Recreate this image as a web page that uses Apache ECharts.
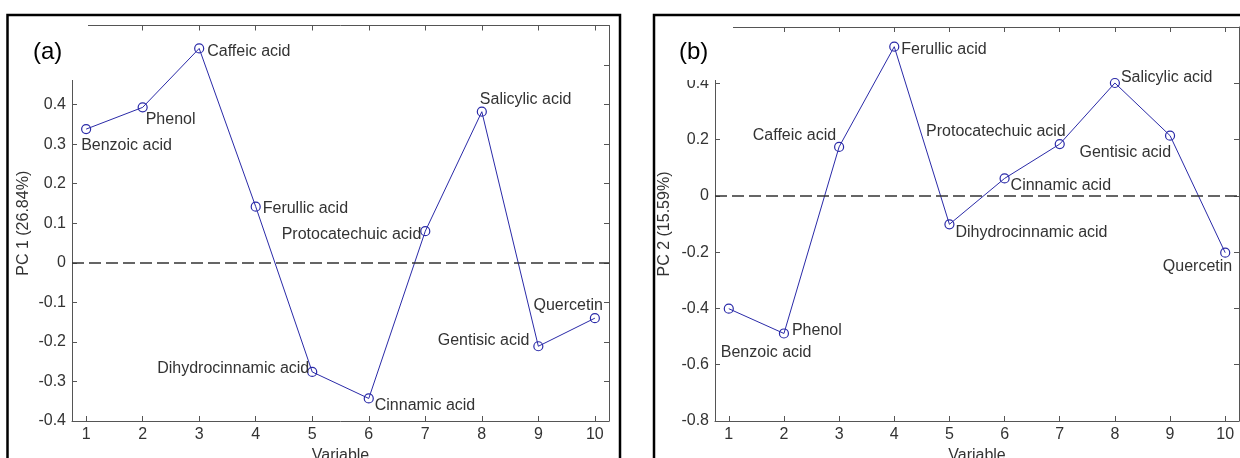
<!DOCTYPE html>
<html>
<head>
<meta charset="utf-8">
<script src="https://cdn.jsdelivr.net/npm/echarts@6/dist/echarts.min.js"></script>
<style>
  html, body { margin: 0; padding: 0; background: #fff; }
  #chart { width: 1240px; height: 458px; }
</style>
</head>
<body>
<div id="chart"></div>
<script>
// ---- data ----
const variables = [1, 2, 3, 4, 5, 6, 7, 8, 9, 10];
const namesA = ['Benzoic acid', 'Phenol', 'Caffeic acid', 'Ferullic acid', 'Dihydrocinnamic acid',
                'Cinnamic acid', 'Protocatechuic acid', 'Salicylic acid', 'Gentisic acid', 'Quercetin'];
const pc1 = [0.338, 0.393, 0.542, 0.142, -0.276, -0.343, 0.080, 0.382, -0.211, -0.140];
const namesB = ['Benzoic acid', 'Phenol', 'Caffeic acid', 'Ferullic acid', 'Dihydrocinnamic acid',
                'Cinnamic acid', 'Protocatechuic acid', 'Salicylic acid', 'Gentisic acid', 'Quercetin'];
const pc2 = [-0.401, -0.489, 0.174, 0.530, -0.101, 0.062, 0.184, 0.401, 0.214, -0.202];
const xTicks = [1, 2, 3, 4, 5, 6, 7, 8, 9, 10];
const yNameA = 'PC 1 (26.84%)';
const yNameB = 'PC 2 (15.59%)';
const xName = 'Variable';

// ---- label placement (style, not data): [align, dx, dy] ----
const placeA = [['left', -5, 16], ['left', 3, 12], ['left', 8, 3], ['left', 7, 2], ['right', -3, -3],
                ['left', 6, 7], ['right', -4, 3], ['left', -2, -12], ['right', -9, -6], ['right', 8, -13]];
const placeB = [['left', -8, 44], ['left', 8, -3], ['right', -3, -11], ['left', 7, 3], ['left', 6, 8],
                ['left', 6, 7], ['right', 6, -12], ['left', 6, -5], ['right', 1, 17], ['right', 7, 14]];

const FONT = 'Liberation Sans, Arial, sans-serif';
const TXT = '#333';
const AX = '#555';
const BLUE = '#2a2aa8';

function buildData(xs, ys, names, place) {
  return xs.map((x, i) => ({
    value: [x, ys[i]],
    label: {
      show: true,
      position: 'inside',
      formatter: names[i],
      align: place[i][0],
      verticalAlign: 'middle',
      offset: [place[i][1], place[i][2]],
      color: TXT,
      fontSize: 16,
      fontFamily: FONT
    }
  }));
}

function xAxisPair(gridIndex) {
  return [
    {
      gridIndex, type: 'value', min: 0.75, max: 10.25, position: 'bottom',
      name: xName, nameLocation: 'middle', nameGap: 23,
      nameTextStyle: { color: TXT, fontSize: 16, fontFamily: FONT },
      axisLine: { show: true, onZero: false, lineStyle: { color: AX, width: 1 } },
      axisTick: { show: true, inside: true, length: 5, customValues: xTicks, lineStyle: { color: AX } },
      axisLabel: { show: true, customValues: xTicks, margin: 6, color: TXT, fontSize: 16, fontFamily: FONT },
      splitLine: { show: false }
    },
    {
      gridIndex, type: 'value', min: 0.75, max: 10.25, position: 'top',
      axisLine: { show: true, onZero: false, lineStyle: { color: AX, width: 1 } },
      axisTick: { show: true, inside: true, length: 5, customValues: xTicks, lineStyle: { color: AX } },
      axisLabel: { show: false },
      splitLine: { show: false }
    }
  ];
}

function yAxisPair(gridIndex, min, max, interval, name, nameGap) {
  return [
    {
      gridIndex, type: 'value', min, max, interval, position: 'left',
      name, nameLocation: 'middle', nameGap, nameRotate: 90,
      nameTextStyle: { color: TXT, fontSize: 16, fontFamily: FONT },
      axisLine: { show: true, onZero: false, lineStyle: { color: AX, width: 1 } },
      axisTick: { show: true, inside: true, length: 5, lineStyle: { color: AX } },
      axisLabel: { show: true, margin: 6, color: TXT, fontSize: 16, fontFamily: FONT },
      splitLine: { show: false }
    },
    {
      gridIndex, type: 'value', min, max, interval, position: 'right',
      axisLine: { show: true, onZero: false, lineStyle: { color: AX, width: 1 } },
      axisTick: { show: true, inside: true, length: 5, lineStyle: { color: AX } },
      axisLabel: { show: false },
      splitLine: { show: false }
    }
  ];
}

function lineSeries(xi, yi, data) {
  return {
    type: 'line', xAxisIndex: xi, yAxisIndex: yi, data,
    symbol: 'circle', symbolSize: 9,
    itemStyle: { color: 'rgba(255,255,255,0)', borderColor: BLUE, borderWidth: 1.2 },
    lineStyle: { color: BLUE, width: 1 },
    emphasis: { disabled: true },
    animation: false,
    markLine: {
      silent: true, symbol: 'none', animation: false,
      label: { show: false },
      lineStyle: { color: '#333', width: 1.5, type: [12, 5] },
      data: [{ yAxis: 0 }]
    },
    z: 3
  };
}

const chart = echarts.init(document.getElementById('chart'), null, { renderer: 'canvas' });
chart.setOption({
  backgroundColor: '#fff',
  animation: false,
  grid: [
    { left: 72, top: 25.5, width: 537, height: 395.5, outerBoundsMode: 'none', containLabel: false },
    { left: 715, top: 27, width: 524, height: 394, outerBoundsMode: 'none', containLabel: false }
  ],
  xAxis: [...xAxisPair(0), ...xAxisPair(1)],
  yAxis: [...yAxisPair(0, -0.4, 0.6, 0.1, yNameA, 40), ...yAxisPair(1, -0.8, 0.6, 0.2, yNameB, 42)],
  series: [
    lineSeries(0, 0, buildData(variables, pc1, namesA, placeA)),
    lineSeries(2, 2, buildData(variables, pc2, namesB, placeB))
  ],
  graphic: [
    { type: 'rect', z: 100, shape: { x: 9, y: 16, width: 79, height: 64 }, style: { fill: '#fff', stroke: null } },
    { type: 'rect', z: 100, shape: { x: 655, y: 16, width: 78, height: 64 }, style: { fill: '#fff', stroke: null } },
    { type: 'text', z: 101, x: 33, y: 52, style: { text: '(a)', fill: '#000', font: '24px Liberation Sans, Arial, sans-serif', verticalAlign: 'middle', align: 'left' } },
    { type: 'text', z: 101, x: 679, y: 52, style: { text: '(b)', fill: '#000', font: '24px Liberation Sans, Arial, sans-serif', verticalAlign: 'middle', align: 'left' } },
    { type: 'rect', z: 102, shape: { x: 7.5, y: 15, width: 612.5, height: 460 }, style: { fill: 'none', stroke: '#000', lineWidth: 2.5 } },
    { type: 'rect', z: 102, shape: { x: 654, y: 15, width: 620, height: 460 }, style: { fill: 'none', stroke: '#000', lineWidth: 2.5 } }
  ]
});
</script>
</body>
</html>
